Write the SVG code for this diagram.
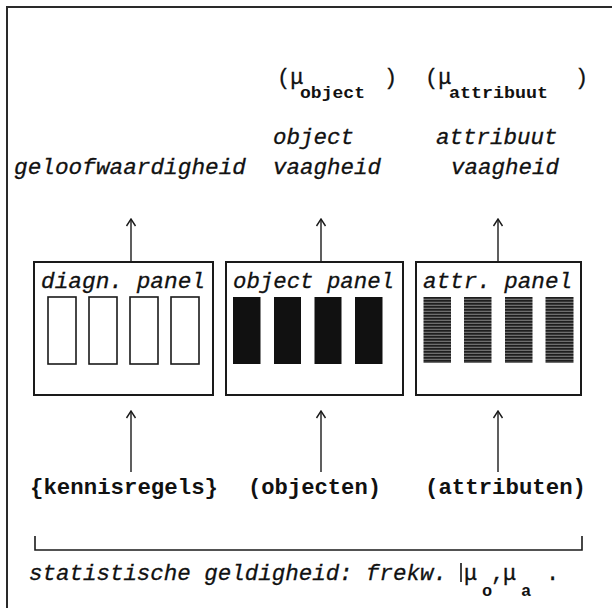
<svg xmlns="http://www.w3.org/2000/svg" width="612" height="608" viewBox="0 0 612 608">
  <defs>
    <style>
      .frame { fill: none; stroke: #2a2a2a; stroke-width: 2; }
      .panel { fill: #fff; stroke: #1a1a1a; stroke-width: 2; }
      .slot-empty { fill: #fff; stroke: #1a1a1a; stroke-width: 1.6; }
      .slot-full { fill: #111; stroke: none; }
      .slot-grey { fill: url(#hatch); stroke: none; }
      .link { fill: none; stroke: #1a1a1a; stroke-width: 1.4; marker-end: url(#up); }
      .it { font-family: "Liberation Mono", "DejaVu Sans Mono", monospace; font-style: italic; font-size: 22.5px; fill: #111; stroke: #111; stroke-width: 0.3; }
      .bd { font-family: "Liberation Mono", "DejaVu Sans Mono", monospace; font-weight: bold; font-size: 22px; fill: #111; }
      .sm { font-family: "Liberation Mono", "DejaVu Sans Mono", monospace; font-weight: bold; font-size: 17px; fill: #111; }
      .mu { font-family: "Liberation Mono", "DejaVu Sans Mono", monospace; font-size: 22px; fill: #111; stroke: #111; stroke-width: 0.3; }
    </style>
    <marker id="up" viewBox="-9 -6 10 12" refX="0" refY="0" markerWidth="10" markerHeight="12" markerUnits="userSpaceOnUse" orient="auto">
      <path d="M-7,-4.5 L0,0 L-7,4.5" fill="none" stroke="#1a1a1a" stroke-width="1.4"/>
    </marker>
    <pattern id="hatch" width="6" height="3" patternUnits="userSpaceOnUse">
      <rect width="6" height="3" fill="#6e6e6e"/>
      <rect width="6" height="1.7" fill="#1e1e1e"/>
    </pattern>
  </defs>

  <!-- outer frame (top and left edges) -->
  <path class="frame" d="M7,608 L7,7 L612,7"/>

  <!-- connectors -->
  <g id="connectors">
    <line class="link" x1="131" y1="262" x2="131" y2="219"/>
    <line class="link" x1="321" y1="262" x2="321" y2="219"/>
    <line class="link" x1="498" y1="262" x2="498" y2="219"/>
    <line class="link" x1="131" y1="472" x2="131" y2="411"/>
    <line class="link" x1="321" y1="472" x2="321" y2="411"/>
    <line class="link" x1="498" y1="472" x2="498" y2="411"/>
    <path d="M35,536 L35,550 L582,550 L582,536" fill="none" stroke="#1a1a1a" stroke-width="1.6"/>
  </g>

  <!-- output measures -->
  <g id="geloofwaardigheid">
    <text class="it" x="14" y="174" textLength="232" lengthAdjust="spacingAndGlyphs">geloofwaardigheid</text>
  </g>
  <g id="object-vaagheid">
    <text class="mu" x="277" y="84">(μ</text>
    <text class="sm" x="300" y="98" textLength="65" lengthAdjust="spacingAndGlyphs">object</text>
    <text class="mu" x="384" y="84">)</text>
    <text class="it" x="273" y="144">object</text>
    <text class="it" x="273" y="174">vaagheid</text>
  </g>
  <g id="attribuut-vaagheid">
    <text class="mu" x="425" y="84">(μ</text>
    <text class="sm" x="449" y="98" textLength="99" lengthAdjust="spacingAndGlyphs">attribuut</text>
    <text class="mu" x="575" y="84">)</text>
    <text class="it" x="436" y="144">attribuut</text>
    <text class="it" x="451" y="174">vaagheid</text>
  </g>

  <!-- panels -->
  <g id="diagn-panel">
    <rect class="panel" x="34" y="262" width="179" height="133"/>
    <text class="it" x="41" y="288" textLength="164" lengthAdjust="spacingAndGlyphs">diagn. panel</text>
    <rect class="slot-empty" x="48" y="297" width="28" height="67"/>
    <rect class="slot-empty" x="89" y="297" width="28" height="67"/>
    <rect class="slot-empty" x="130" y="297" width="28" height="67"/>
    <rect class="slot-empty" x="171" y="297" width="28" height="67"/>
  </g>
  <g id="object-panel">
    <rect class="panel" x="226" y="262" width="177" height="133"/>
    <text class="it" x="233" y="288" textLength="161" lengthAdjust="spacingAndGlyphs">object panel</text>
    <rect class="slot-full" x="233" y="297" width="27.5" height="67"/>
    <rect class="slot-full" x="274" y="297" width="27" height="67"/>
    <rect class="slot-full" x="314.5" y="297" width="27" height="67"/>
    <rect class="slot-full" x="355" y="297" width="27.5" height="67"/>
  </g>
  <g id="attr-panel">
    <rect class="panel" x="416" y="262" width="165" height="133"/>
    <text class="it" x="423" y="288" textLength="149" lengthAdjust="spacingAndGlyphs">attr. panel</text>
    <rect class="slot-grey" x="423.5" y="297" width="27.5" height="66"/>
    <rect class="slot-grey" x="464" y="297" width="27.5" height="66"/>
    <rect class="slot-grey" x="505" y="297" width="27.5" height="66"/>
    <rect class="slot-grey" x="545.5" y="297" width="28" height="66"/>
  </g>

  <!-- inputs -->
  <g id="kennisregels">
    <text class="bd" x="30" y="494" textLength="188" lengthAdjust="spacingAndGlyphs">{kennisregels}</text>
  </g>
  <g id="objecten">
    <text class="bd" x="248" y="494" textLength="133" lengthAdjust="spacingAndGlyphs">(objecten)</text>
  </g>
  <g id="attributen">
    <text class="bd" x="425" y="494" textLength="161" lengthAdjust="spacingAndGlyphs">(attributen)</text>
  </g>

  <!-- statistical validity -->
  <g id="statistische-geldigheid">
    <text class="it" x="29" y="580" textLength="418" lengthAdjust="spacingAndGlyphs">statistische geldigheid: frekw.</text>
    <line x1="461" y1="563" x2="461" y2="582" stroke="#111" stroke-width="1.6"/>
    <text class="mu" x="464" y="580">μ</text>
    <text class="sm" x="482" y="596">o</text>
    <text class="mu" x="491" y="580">,</text>
    <text class="mu" x="503" y="580">μ</text>
    <text class="sm" x="521" y="596">a</text>
    <text class="mu" x="546" y="580">.</text>
  </g>
</svg>
